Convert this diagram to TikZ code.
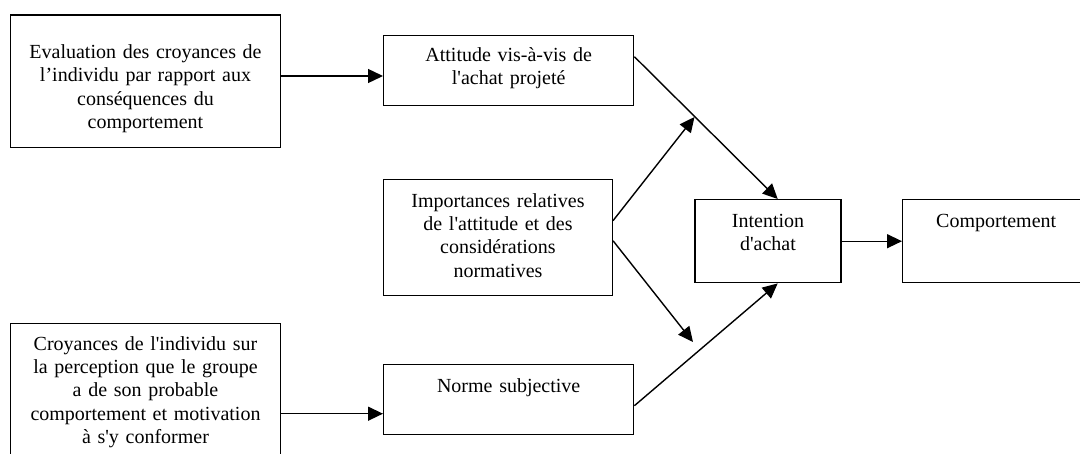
\documentclass[tikz,border=0pt]{standalone}
\usepackage{fontspec}
\setmainfont{Liberation Serif}
\usetikzlibrary{arrows.meta}
\newcommand{\ap}{\textquotesingle}
\begin{document}
\begin{tikzpicture}[x=1pt,y=-1pt,
    box/.style={draw,line width=1.4pt,anchor=north west,align=center,inner sep=0pt,
        font=\fontsize{20pt}{23.3pt}\selectfont},
    arr/.style={-{Triangle[length=15pt,width=14pt]},line width=1.4pt}]
        \useasboundingbox (0,0) rectangle (1080,453);

        \node[box,text width=270.4pt,text height=43.5pt,text depth=88.9pt] (eval)  at (9.6,14.3)
            {Evaluation des croyances de\\l’individu par rapport aux\\conséquences du\\comportement};
        \node[box,text width=250pt,text height=25.5pt,text depth=44.5pt] (att)  at (383,35)
            {Attitude vis-à-vis de\\l\ap achat projeté};
        \node[box,text width=228.6pt,text height=27.5pt,text depth=88.5pt] (imp)  at (383,179)
            {Importances relatives\\de l\ap attitude et des\\considérations\\normatives};
        \node[box,text width=270.4pt,text height=26.5pt,text depth=109.5pt] (croy)  at (9.6,323)
            {Croyances de l\ap individu sur\\la perception que le groupe\\a de son probable\\comportement et motivation\\à s\ap y conformer};
        \node[box,text width=250pt,text height=27.5pt,text depth=42.5pt] (norme)  at (383,364)
            {Norme subjective};
        \node[box,text width=146pt,text height=27.5pt,text depth=55.5pt] (int)  at (694.3,199)
            {Intention\\d\ap achat};
        \node[box,text width=187pt,text height=27.5pt,text depth=55.5pt] (comp)  at (902,199)
            {Comportement};

        \coordinate (ja) at (694.5,117);
        \coordinate (jn) at (693,342);
        \coordinate (nin) at ([yshift=-14pt]norme.west);

        \path [arr] (eval.east |- {0,76}) edge (att.west |- {0,76});
        \path [arr] (croy.east |- nin) edge (nin);
        \path [arr] ([yshift=14pt]att.east) edge ([xshift=9.7pt]int.north);
        \path [arr] ([yshift=-6pt]norme.east) edge ([xshift=9.7pt]int.south);
        \path [arr] ([yshift=17pt]imp.east) edge (ja);
        \path [arr] ([yshift=-3pt]imp.east) edge (jn);
        \path [arr] (int) edge (comp);
    \end{tikzpicture}
\end{document}
